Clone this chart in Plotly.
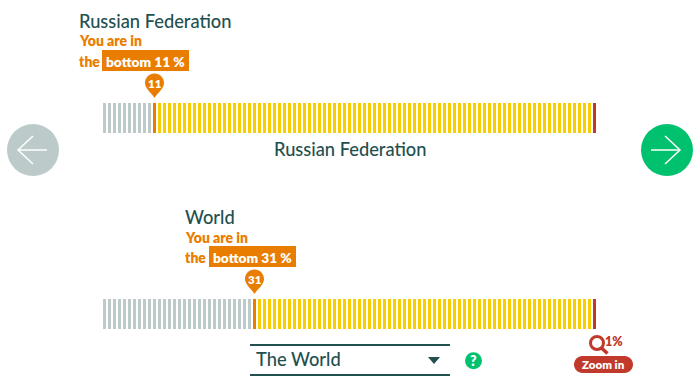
import plotly.graph_objects as go

W, H = 697, 388

# --- data ---
percentiles = list(range(1, 100))
tick_heights = [1] * 99
panel_names = ["Russian Federation", "World"]
panel_ranks = [11, 31]
selector_label = "The World"
zoom_label = "1%"

GREY = "#bccaca"
ORANGE = "#e97d00"
YELLOW = "#f7cf00"
RED = "#c0392b"
DARK = "#22504f"
GREEN = "#00c26e"
FONT = "Lato"


def px(x):
    return x / W


def py(y):
    return 1 - y / H


def colours(rank):
    out = []
    for p in percentiles:
        if p == rank:
            out.append(ORANGE)
        elif p == percentiles[-1]:
            out.append(RED)
        elif p < rank:
            out.append(GREY)
        else:
            out.append(YELLOW)
    return out


fig = go.Figure()
for name, rank, xa, ya in zip(panel_names, panel_ranks, ["x", "x2"], ["y", "y2"]):
    fig.add_bar(
        x=percentiles, y=tick_heights, width=0.6, xaxis=xa, yaxis=ya, name=name,
        marker=dict(color=colours(rank), line=dict(width=0)),
        hoverinfo="skip", showlegend=False,
    )

shapes = []
ann = []


def text(x, y, s, size, color, bold=False, anchor="left", xref="paper", font=FONT):
    f = dict(family=font, size=size, color=color, weight=800 if bold else 500)
    ann.append(dict(
        x=px(x) if xref == "paper" else x, y=py(y), xref=xref, yref="paper",
        text=s, showarrow=False, xanchor=anchor, yanchor="middle",
        borderpad=0, borderwidth=0, font=f,
    ))


def rect(x0, y0, x1, y1, color):
    shapes.append(dict(type="rect", xref="paper", yref="paper", x0=px(x0), x1=px(x1),
                       y0=py(y1), y1=py(y0), fillcolor=color, line=dict(width=0), layer="above"))


def circle(cx, cy, r, fill, line=None, lw=0):
    shapes.append(dict(type="circle", xref="paper", yref="paper", x0=px(cx - r), x1=px(cx + r),
                       y0=py(cy + r), y1=py(cy - r), fillcolor=fill,
                       line=dict(width=lw, color=line or fill), layer="above"))


def seg(points, color, lw):
    d = "M " + " L ".join(f"{px(x):.5f},{py(y):.5f}" for x, y in points)
    shapes.append(dict(type="path", xref="paper", yref="paper", path=d,
                       line=dict(color=color, width=lw), layer="above"))


def pin(xref, strip_top, rank):
    # teardrop drawn in pixels above the top of the tick strip
    k = 5.3
    r = 9.5
    cy = 20
    d = (f"M 0,5 C -2,9 {-r},{cy-6} {-r},{cy} C {-r},{cy+k} {-k},{cy+r} 0,{cy+r} "
         f"C {k},{cy+r} {r},{cy+k} {r},{cy} C {r},{cy-6} 2,9 0,5 Z")
    shapes.append(dict(type="path", xref=xref, yref="paper", xsizemode="pixel", ysizemode="pixel",
                       xanchor=rank, yanchor=py(strip_top), path=d, fillcolor=ORANGE,
                       line=dict(width=0), layer="above"))


# top panel
text(78.5, 20.5, panel_names[0], 18.3, DARK)
text(78.5, 41, "You are in", 14, ORANGE, True)
text(78.5, 61, "the", 14, ORANGE, True)
rect(102, 50, 189, 71, ORANGE)
text(145.5, 61, f"bottom {panel_ranks[0]} %", 13.7, "white", True, "center")
pin("x", 103, panel_ranks[0])
text(panel_ranks[0], 83.5, str(panel_ranks[0]), 11.5, "white", True, "center", "x")
text(350, 148.5, panel_names[0], 18.3, DARK, anchor="center")

# bottom panel
text(184.5, 216.5, panel_names[1], 18.3, DARK)
text(184.5, 237, "You are in", 14, ORANGE, True)
text(184.5, 257, "the", 14, ORANGE, True)
rect(209, 246, 296, 267, ORANGE)
text(252.5, 257, f"bottom {panel_ranks[1]} %", 13.7, "white", True, "center")
pin("x2", 299, panel_ranks[1])
text(panel_ranks[1], 279.5, str(panel_ranks[1]), 11.5, "white", True, "center", "x2")

# nav arrows
circle(33, 150, 26, GREY)
seg([(18, 150), (47, 150)], "white", 1.5)
seg([(33, 136), (18, 150), (33, 164)], "white", 1.5)
circle(667, 150, 26, GREEN)
seg([(651, 150), (680, 150)], "white", 1.5)
seg([(665, 136), (680, 150), (665, 164)], "white", 1.5)

# selector
rect(250, 344, 450, 346, DARK)
rect(250, 374, 450, 376, DARK)
text(256, 359, selector_label, 18.3, DARK)
shapes.append(dict(type="path", xref="paper", yref="paper",
                   path=f"M {px(428)},{py(357)} L {px(440)},{py(357)} L {px(434)},{py(364)} Z",
                   fillcolor=DARK, line=dict(width=0), layer="above"))
circle(473.5, 360.7, 8.5, GREEN)
text(473.5, 360.7, "?", 14, "white", True, "center")

# zoom control
circle(597, 343, 6.5, "rgba(0,0,0,0)", RED, 3)
seg([(601.5, 348), (607.5, 353.5)], RED, 3.5)
text(605, 341, zoom_label, 12.5, RED, True)
x0, x1, y0, y1, r = 574, 633, 356, 373, 8.5
c = r * 0.45
pill = (f"M {px(x0+r)},{py(y0)} L {px(x1-r)},{py(y0)} "
        f"C {px(x1-c)},{py(y0)} {px(x1)},{py(y0+c)} {px(x1)},{py(y0+r)} "
        f"C {px(x1)},{py(y1-c)} {px(x1-c)},{py(y1)} {px(x1-r)},{py(y1)} "
        f"L {px(x0+r)},{py(y1)} "
        f"C {px(x0+c)},{py(y1)} {px(x0)},{py(y1-c)} {px(x0)},{py(y1-r)} "
        f"C {px(x0)},{py(y0+c)} {px(x0+c)},{py(y0)} {px(x0+r)},{py(y0)} Z")
shapes.append(dict(type="path", xref="paper", yref="paper", path=pill, fillcolor=RED,
                   line=dict(width=0), layer="above"))
text(603.5, 364.5, "Zoom in", 11.5, "white", True, "center")

axis_off = dict(visible=False, fixedrange=True)
xdom = [px(103), px(596)]
fig.update_layout(
    width=W, height=H, margin=dict(l=0, r=0, t=0, b=0),
    paper_bgcolor="white", plot_bgcolor="white", bargap=0,
    font=dict(family=FONT),
    xaxis=dict(domain=xdom, range=[0.7, 99.3], anchor="y", **axis_off),
    yaxis=dict(domain=[py(133), py(103)], range=[0, 1], anchor="x", **axis_off),
    xaxis2=dict(domain=xdom, range=[0.7, 99.3], anchor="y2", **axis_off),
    yaxis2=dict(domain=[py(329), py(299)], range=[0, 1], anchor="x2", **axis_off),
    shapes=shapes, annotations=ann,
)

fig.write_html("out.html", config={"displayModeBar": False},
               post_script="document.body.style.margin='0';document.body.style.overflow='hidden';")
